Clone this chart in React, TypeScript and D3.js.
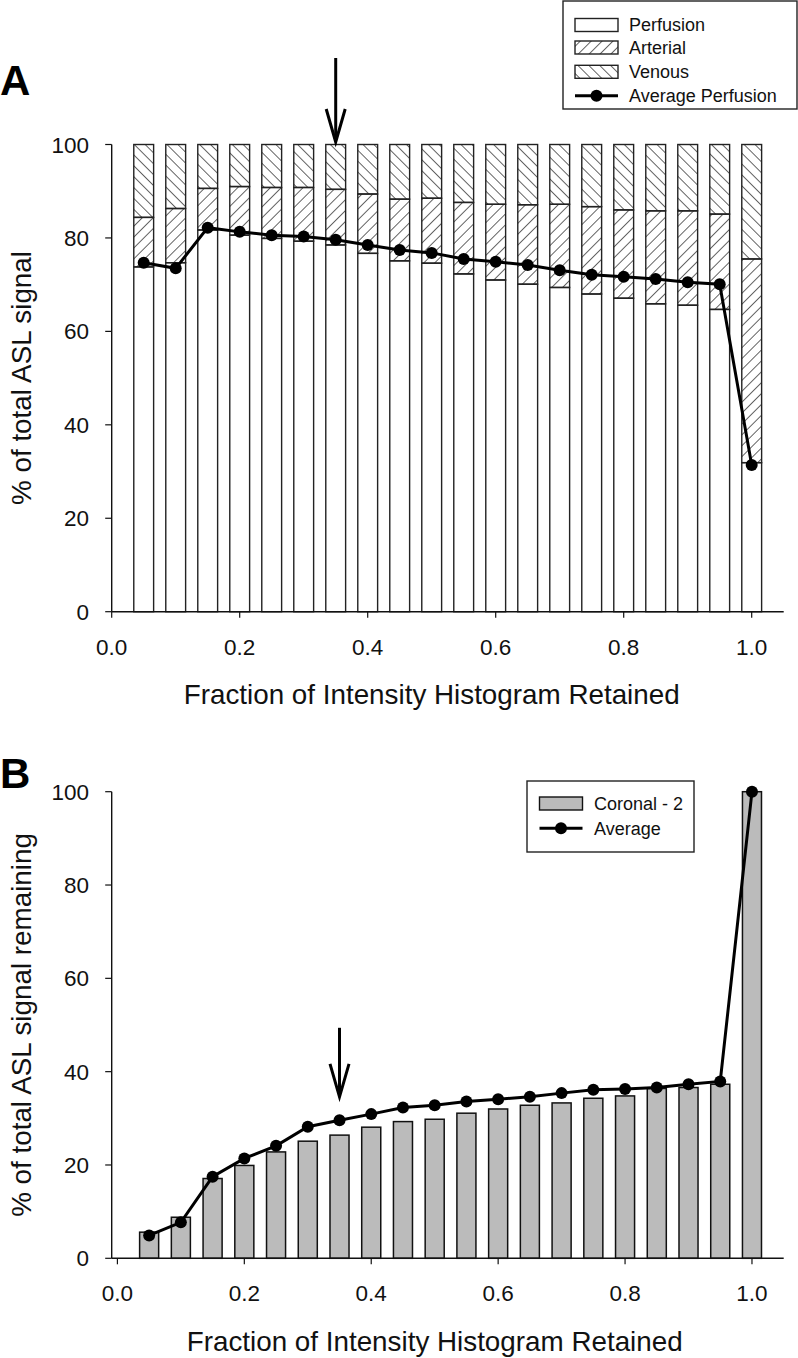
import React from 'react';
import * as d3 from 'd3';

const fractions = [0.05, 0.1, 0.15, 0.2, 0.25, 0.3, 0.35, 0.4, 0.45, 0.5, 0.55, 0.6, 0.65, 0.7, 0.75, 0.8, 0.85, 0.9, 0.95, 1.0];
const perfusion = [73.8, 74.7, 81.7, 80.6, 79.9, 79.3, 78.5, 76.7, 75.1, 74.6, 72.3, 71.0, 70.1, 69.4, 68.0, 67.1, 65.9, 65.6, 64.7, 31.9];
const arterial = [10.6, 11.6, 8.9, 10.4, 10.9, 11.5, 11.9, 12.7, 13.2, 13.9, 15.3, 16.2, 17.0, 17.8, 18.7, 18.9, 19.9, 20.2, 20.4, 43.6];
const venous = [15.6, 13.7, 9.4, 9.0, 9.2, 9.2, 9.6, 10.6, 11.7, 11.5, 12.4, 12.8, 12.9, 12.8, 13.3, 14.0, 14.2, 14.2, 14.9, 24.5];
const avgPerfusion = [74.7, 73.5, 82.2, 81.3, 80.6, 80.3, 79.6, 78.5, 77.4, 76.8, 75.5, 74.9, 74.2, 73.1, 72.1, 71.7, 71.2, 70.5, 70.1, 31.4];
const coronal2 = [5.6, 8.8, 17.1, 19.9, 22.8, 25.1, 26.4, 28.1, 29.3, 29.8, 31.1, 32.0, 32.8, 33.3, 34.3, 34.8, 36.4, 36.6, 37.3, 100];
const avgRemaining = [4.9, 7.7, 17.5, 21.4, 24.1, 28.2, 29.6, 30.9, 32.3, 32.8, 33.6, 34.1, 34.6, 35.4, 36.1, 36.3, 36.6, 37.3, 37.9, 100];
const xTicks = [0, 0.2, 0.4, 0.6, 0.8, 1.0];
const yTicks = [0, 20, 40, 60, 80, 100];
const legendA = ['Perfusion', 'Arterial', 'Venous', 'Average Perfusion'];
const legendB = ['Coronal - 2', 'Average'];
const arrowAt = 0.35;
const xTitle = 'Fraction of Intensity Histogram Retained';

const FONT = '"Liberation Sans", Arial, Helvetica, sans-serif';

function Axes({ x, y, yTitle, titleY }: any) {
  const fmt = d3.format('.1f');
  const [ry0, ry1] = y.range();
  const [rx0, rx1] = x.range();
  return (
    <g fontFamily={FONT} fill="#111">
      <line x1={rx0} x2={rx0} y1={ry0} y2={ry1} stroke="#111" strokeWidth={1.4} />
      <line x1={rx0} x2={rx1} y1={ry0} y2={ry0} stroke="#111" strokeWidth={1.4} />
      {yTicks.map((t) => (
        <g key={'y' + t}>
          <line x1={rx0 - 6.5} x2={rx0} y1={y(t)} y2={y(t)} stroke="#111" strokeWidth={1.2} />
          <text x={89} y={y(t)} dy="0.36em" textAnchor="end" fontSize={22.5}>{t}</text>
        </g>
      ))}
      {xTicks.map((t) => (
        <g key={'x' + t}>
          <line x1={x(t)} x2={x(t)} y1={ry0} y2={ry0 + 6} stroke="#111" strokeWidth={1.2} />
          <text x={x(t)} y={ry0 + 43} textAnchor="middle" fontSize={22.5}>{fmt(t)}</text>
        </g>
      ))}
      <text x={(x(0) + x(1)) / 2} y={ry0 + 92.5} textAnchor="middle" fontSize={27.8}>{xTitle}</text>
      <text transform={`translate(31,${titleY}) rotate(-90)`} textAnchor="middle" fontSize={27.8}>{yTitle}</text>
    </g>
  );
}

function Arrow({ x, yTop, yTip }: any) {
  return (
    <g stroke="#000" strokeWidth={3} fill="none">
      <line x1={x} x2={x} y1={yTop} y2={yTip - 2} />
      <path d={`M${x - 9.5},${yTip - 33} L${x},${yTip} L${x + 9.5},${yTip - 33}`} strokeLinejoin="miter" />
    </g>
  );
}

export default function App() {
  const xA = d3.scaleLinear().domain([0, 1.05]).range([111.7, 783.7]);
  const yA = d3.scaleLinear().domain([0, 100]).range([611.7, 144.5]);
  const xB = d3.scaleLinear().domain([-0.009, 1.05]).range([111.7, 783.7]);
  const yB = d3.scaleLinear().domain([0, 100]).range([1258.3, 791.7]);

  const rowsA = fractions.map((f, i) => ({ f, perfusion: perfusion[i], arterial: arterial[i], venous: venous[i] }));
  const keys = ['perfusion', 'arterial', 'venous'];
  const stacked = d3.stack<any>().keys(keys)(rowsA);
  const fills: Record<string, string> = { perfusion: '#fff', arterial: 'url(#hatchArt)', venous: 'url(#hatchVen)' };

  const bwA = xA(0.031) - xA(0);
  const bwB = xB(0.03) - xB(0);

  const lineA = d3.line<number>().x((_, i) => xA(fractions[i])).y((d) => yA(d));
  const lineB = d3.line<number>().x((_, i) => xB(fractions[i])).y((d) => yB(d));

  const lgA = { x: 563, y: 1, w: 234, h: 108 };
  const lgRowsA = [25, 47.5, 71.8, 95.7];
  const lgB = { x: 527, y: 781, w: 167, h: 71 };
  const lgRowsB = [803.5, 828.3];

  return (
    <svg width={798} height={1358} style={{ position: 'absolute', left: 0, top: 0, background: '#fff' }}>
      <defs>
        <pattern id="hatchArt" patternUnits="userSpaceOnUse" width={7.7} height={7.7} patternTransform="rotate(45)">
          <line x1={0} y1={0} x2={0} y2={7.7} stroke="#111" strokeWidth={1.3} />
        </pattern>
        <pattern id="hatchVen" patternUnits="userSpaceOnUse" width={7.7} height={7.7} patternTransform="rotate(-45)">
          <line x1={0} y1={0} x2={0} y2={7.7} stroke="#111" strokeWidth={1.3} />
        </pattern>
      </defs>
      <rect x={0} y={0} width={798} height={1358} fill="#fff" />

      {/* Panel A */}
      <text x={0} y={95} fontFamily={FONT} fontWeight="bold" fontSize={42}>A</text>
      {stacked.map((s) => (
        <g key={s.key}>
          {s.map((d, i) => (
            <rect key={i} x={xA(fractions[i]) - bwA / 2} width={bwA} y={yA(d[1])} height={yA(d[0]) - yA(d[1])}
              fill={fills[s.key]} stroke="#222" strokeWidth={1.4} />
          ))}
        </g>
      ))}
      <Axes x={xA} y={yA} yTitle="% of total ASL signal" titleY={378} />
      <path d={lineA(avgPerfusion) || ''} fill="none" stroke="#000" strokeWidth={3} />
      {avgPerfusion.map((v, i) => (
        <circle key={i} cx={xA(fractions[i])} cy={yA(v)} r={6} fill="#000" />
      ))}
      <Arrow x={xA(arrowAt)} yTop={yA(100) - 86.5} yTip={yA(100) - 2.5} />

      {/* Legend A */}
      <g fontFamily={FONT} fontSize={18}>
        <rect x={lgA.x} y={lgA.y} width={lgA.w} height={lgA.h} fill="#fff" stroke="#222" strokeWidth={1.4} />
        {legendA.slice(0, 3).map((name, i) => (
          <rect key={name} x={575} y={lgRowsA[i] - 6.5} width={43} height={13}
            fill={fills[keys[i]]} stroke="#222" strokeWidth={1.4} />
        ))}
        <line x1={575} x2={618} y1={lgRowsA[3]} y2={lgRowsA[3]} stroke="#000" strokeWidth={3} />
        <circle cx={596.5} cy={lgRowsA[3]} r={6} fill="#000" />
        {legendA.map((name, i) => (
          <text key={name} x={629} y={lgRowsA[i]} dy="0.36em" fill="#111">{name}</text>
        ))}
      </g>

      {/* Panel B */}
      <text x={0} y={788} fontFamily={FONT} fontWeight="bold" fontSize={42}>B</text>
      {coronal2.map((v, i) => (
        <rect key={i} x={xB(fractions[i]) - bwB / 2} width={bwB} y={yB(v)} height={yB(0) - yB(v)}
          fill="#bbbbbb" stroke="#111" strokeWidth={1.5} />
      ))}
      <Axes x={xB} y={yB} yTitle="% of total ASL signal remaining" titleY={1025} />
      <path d={lineB(avgRemaining) || ''} fill="none" stroke="#000" strokeWidth={3} />
      {avgRemaining.map((v, i) => (
        <circle key={i} cx={xB(fractions[i])} cy={yB(v)} r={6} fill="#000" />
      ))}
      <Arrow x={xB(arrowAt)} yTop={yB(49.4)} yTip={yB(34.6)} />

      {/* Legend B */}
      <g fontFamily={FONT} fontSize={18}>
        <rect x={lgB.x} y={lgB.y} width={lgB.w} height={lgB.h} fill="#fff" stroke="#222" strokeWidth={1.4} />
        <rect x={539.5} y={lgRowsB[0] - 6.5} width={43} height={13} fill="#bbbbbb" stroke="#111" strokeWidth={1.4} />
        <line x1={539.5} x2={582.5} y1={lgRowsB[1]} y2={lgRowsB[1]} stroke="#000" strokeWidth={3} />
        <circle cx={561} cy={lgRowsB[1]} r={6} fill="#000" />
        {legendB.map((name, i) => (
          <text key={name} x={594} y={lgRowsB[i]} dy="0.36em" fill="#111">{name}</text>
        ))}
      </g>
    </svg>
  );
}
